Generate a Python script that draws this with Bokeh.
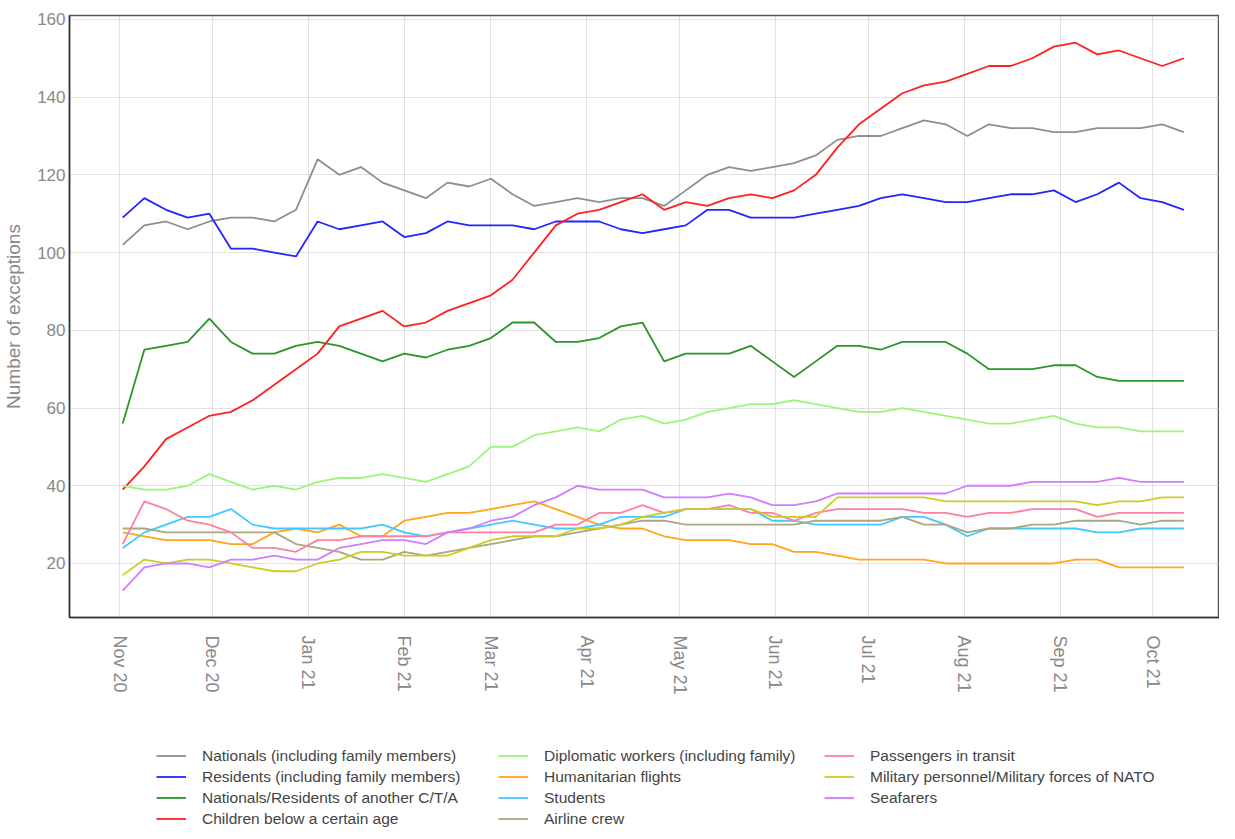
from datetime import datetime, timedelta
import pandas as pd
from bokeh.plotting import figure
from bokeh.layouts import column
from bokeh.models import (Range1d, Legend, LegendItem, SingleIntervalTicker,
                          MonthsTicker, DatetimeTickFormatter)
from bokeh.embed import file_html
from bokeh.resources import INLINE

# ---------------- data (weekly) ----------------
dates = list(pd.date_range("2020-11-02", periods=50, freq="7D"))

nationals = [102,107,108,106,108,109,109,108,111,124,120,122,118,116,114,118,117,119,115,112,
             113,114,113,114,114,112,116,120,122,121,122,123,125,129,130,130,132,134,133,130,
             133,132,132,131,131,132,132,132,133,131]
residents = [109,114,111,109,110,101,101,100,99,108,106,107,108,104,105,108,107,107,107,106,
             108,108,108,106,105,106,107,111,111,109,109,109,110,111,112,114,115,114,113,113,
             114,115,115,116,113,115,118,114,113,111]
other_cta = [56,75,76,77,83,77,74,74,76,77,76,74,72,74,73,75,76,78,82,82,
             77,77,78,81,82,72,74,74,74,76,72,68,72,76,76,75,77,77,77,74,
             70,70,70,71,71,68,67,67,67,67]
children = [39,45,52,55,58,59,62,66,70,74,81,83,85,81,82,85,87,89,93,100,
            107,110,111,113,115,111,113,112,114,115,114,116,120,127,133,137,141,143,144,146,
            148,148,150,153,154,151,152,150,148,150]
diplomatic = [40,39,39,40,43,41,39,40,39,41,42,42,43,42,41,43,45,50,50,53,
              54,55,54,57,58,56,57,59,60,61,61,62,61,60,59,59,60,59,58,57,
              56,56,57,58,56,55,55,54,54,54]
humanitarian = [28,27,26,26,26,25,25,28,29,28,30,27,27,31,32,33,33,34,35,36,
                34,32,30,29,29,27,26,26,26,25,25,23,23,22,21,21,21,21,20,20,
                20,20,20,20,21,21,19,19,19,19]
students = [24,28,30,32,32,34,30,29,29,29,29,29,30,28,27,28,29,30,31,30,
            29,29,30,32,32,32,34,34,34,34,31,31,30,30,30,30,32,32,30,27,
            29,29,29,29,29,28,28,29,29,29]
airline = [29,29,28,28,28,28,28,28,25,24,23,21,21,23,22,23,24,25,26,27,
           27,28,29,30,31,31,30,30,30,30,30,30,31,31,31,31,32,30,30,28,
           29,29,30,30,31,31,31,30,31,31]
transit = [25,36,34,31,30,28,24,24,23,26,26,27,27,27,27,28,28,28,28,28,
           30,30,33,33,35,33,34,34,35,33,33,31,33,34,34,34,34,33,33,32,
           33,33,34,34,34,32,33,33,33,33]
military = [17,21,20,21,21,20,19,18,18,20,21,23,23,22,22,22,24,26,27,27,
            27,29,29,30,32,33,34,34,34,34,32,32,32,37,37,37,37,37,36,36,
            36,36,36,36,36,35,36,36,37,37]
seafarers = [13,19,20,20,19,21,21,22,21,21,24,25,26,26,25,28,29,31,32,35,
             37,40,39,39,39,37,37,37,38,37,35,35,36,38,38,38,38,38,38,40,
             40,40,41,41,41,41,42,41,41,41]

names = ["Nationals (including family members)", "Residents (including family members)",
         "Nationals/Residents of another C/T/A", "Children below a certain age",
         "Diplomatic workers (including family)", "Humanitarian flights", "Students",
         "Airline crew", "Passengers in transit", "Military personnel/Military forces of NATO",
         "Seafarers"]
series = [nationals, residents, other_cta, children, diplomatic, humanitarian, students,
          airline, transit, military, seafarers]
colors = ["#8e8e8e", "#2424ff", "#2a952a", "#ff2121", "#9cf57a", "#ffa51e", "#45c8ff",
          "#a9a77f", "#ff7fa2", "#cccc22", "#d27cff"]

# ---------------- main chart ----------------
px_per_day = 3.118
x0 = datetime(2020, 11, 1) - timedelta(days=50.5 / px_per_day)
x1 = x0 + timedelta(days=1159 / px_per_day)

p = figure(width=1219, height=717, x_axis_type="datetime", output_backend="svg",
           toolbar_location=None, x_range=Range1d(x0, x1), y_range=Range1d(6.1, 161.0),
           min_border_left=60, min_border_right=0, min_border_top=15, min_border_bottom=100)

p.outline_line_color = "#555555"
p.outline_line_width = 1.5

p.xaxis.ticker = MonthsTicker(months=list(range(12)))
p.xaxis.formatter = DatetimeTickFormatter(months="%b %y", days="%b %y")
p.xaxis.major_label_orientation = "vertical"
p.yaxis.ticker = SingleIntervalTicker(interval=20, num_minor_ticks=0)

for ax in (p.xaxis[0], p.yaxis[0]):
    ax.major_tick_out = 0
    ax.major_tick_in = 0
    ax.minor_tick_out = 0
    ax.minor_tick_in = 0
    ax.axis_line_color = "#333333"
    ax.axis_line_width = 1.5
    ax.major_label_text_color = "#888888"
    ax.major_label_text_font = "Liberation Sans"
    ax.major_label_text_font_size = "17px"
p.xaxis.major_label_text_font_size = "18px"
p.xaxis.major_label_standoff = 18
p.yaxis.major_label_standoff = 4
p.yaxis.axis_label = "Number of exceptions"
p.yaxis.axis_label_text_font = "Liberation Sans"
p.yaxis.axis_label_text_font_size = "19px"
p.yaxis.axis_label_text_font_style = "normal"
p.yaxis.axis_label_text_color = "#888888"
p.yaxis.axis_label_standoff = 10

for g in (p.xgrid[0], p.ygrid[0]):
    g.grid_line_color = "#c4c4c4"
    g.grid_line_dash = "1 1"
    g.grid_line_width = 1

for s, c in zip(series, colors):
    p.line(dates, s, line_color=c, line_width=1.8)

# ---------------- legend strip ----------------
lg = figure(width=1219, height=112, output_backend="svg", toolbar_location=None,
            x_range=Range1d(0, 1), y_range=Range1d(0, 1),
            x_axis_location=None, y_axis_location=None,
            min_border_left=0, min_border_right=0, min_border_top=0, min_border_bottom=0)
lg.grid.visible = False
lg.outline_line_color = None

# key renderers sit outside the visible range; they only feed the legend glyphs
key_renderers = [lg.line([-5, -4], [-5, -4], line_color=c, line_width=1.8) for c in colors]

# the legend strip's frame is aligned with the chart frame (x = 68 on the page)
cols = [(0, 4, 87), (4, 8, 429), (8, 11, 755)]
for a, b, xoff in cols:
    items = [LegendItem(label=names[i], renderers=[key_renderers[i]]) for i in range(a, b)]
    n_missing = 4 - (b - a)
    leg = Legend(items=items, location=(xoff, 0 + 21 * n_missing), orientation="vertical",
                 glyph_width=30, glyph_height=21, label_height=21, spacing=0, padding=0,
                 margin=0, label_standoff=16, border_line_alpha=0, background_fill_alpha=0,
                 label_text_font="Liberation Sans", label_text_font_size="15.5px",
                 label_text_color="#444444")
    lg.add_layout(leg)

layout = column(p, lg, spacing=0)
open("out.html", "w").write(file_html(layout, INLINE))
